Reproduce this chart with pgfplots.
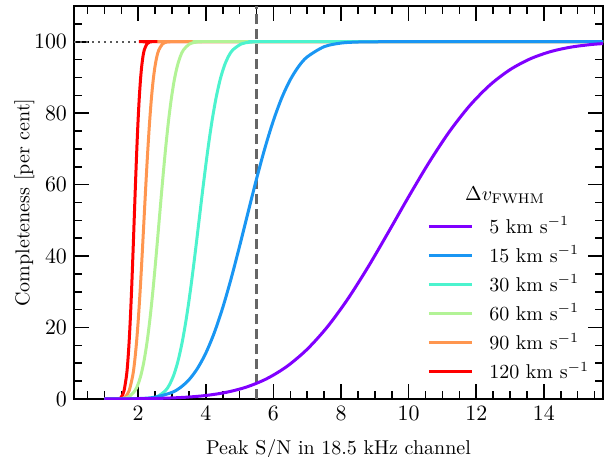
\documentclass[border=0pt]{standalone}
\usepackage{pgfplots}
\pgfplotsset{compat=1.18}
\definecolor{c5}{rgb}{0.5,0,1}
\definecolor{c15}{rgb}{0.1,0.588,0.951}
\definecolor{c30}{rgb}{0.3,0.951,0.809}
\definecolor{c60}{rgb}{0.7,0.951,0.588}
\definecolor{c90}{rgb}{1,0.588,0.309}
\definecolor{c120}{rgb}{1,0,0}
\begin{document}
\begin{tikzpicture}
\begin{axis}[
  scale only axis,
  width=264.5pt, height=196.5pt,
  xmin=0.1, xmax=15.75, ymin=0, ymax=110,
  xtick={2,4,...,14},
  minor xtick={0.5,1,...,15.5},
  ytick={0,20,...,100},
  minor ytick={5,10,...,110},
  tick align=inside,
  major tick length=7.5pt,
  minor tick length=4pt,
  axis line style={line width=0.8pt},
  every tick/.style={black, line width=0.8pt},
  tick label style={font=\fontsize{11}{13}\selectfont},
  xlabel={Peak S/N in 18.5 kHz channel},
  ylabel={Completeness [per cent]},
  label style={font=\fontsize{10}{12}\selectfont},
  xlabel shift=3pt,
  ylabel shift=-7pt,
  reverse legend,
  legend cell align=left,
  legend style={at={(axis description cs:0.667,0.475)}, anchor=north west,
    draw=none, fill=none, font=\fontsize{10}{12}\selectfont,
    row sep=0.9pt, column sep=6pt, inner sep=0pt},
  legend image code/.code={\draw[#1] (0pt,0pt) -- (21.5pt,0pt);},
  every axis plot/.append style={line width=1.5pt},
]
\addplot[forget plot, color=black!65, line width=1pt, dash pattern=on 1pt off 2pt] coordinates {(0.1,100) (15.75,100)};
\addplot[forget plot, color=black!60, line width=1.1pt, dash pattern=on 5pt off 2.5pt] coordinates {(5.5,0) (5.5,110)};

% 120 km/s
\addplot[c120, smooth] coordinates {
(1.0,0) (1.43,0.13) (1.505,0.62) (1.58,2.28) (1.655,6.68) (1.6925,10.56) (1.73,15.87)
(1.7675,22.66) (1.805,30.85) (1.8425,40.13) (1.88,50) (1.9175,59.87) (1.955,69.15)
(1.9925,77.34) (2.03,84.13) (2.0675,89.44) (2.105,93.32) (2.1425,95.99) (2.18,97.72)
(2.255,99.38) (2.33,99.87) (2.405,99.98) (3.0,100) (15.75,100)};
\addlegendentry{120 km s$^{-1}$}
% 90 km/s
\addplot[c90, smooth] coordinates {
(1.0,0) (1.51,0.13) (1.62,0.62) (1.73,2.28) (1.84,6.68) (1.895,10.56) (1.95,15.87)
(2.005,22.66) (2.06,30.85) (2.115,40.13) (2.17,50) (2.225,59.87) (2.28,69.15)
(2.335,77.34) (2.39,84.13) (2.445,89.44) (2.50,93.32) (2.555,95.99) (2.61,97.72)
(2.72,99.38) (2.83,99.87) (2.94,99.98) (3.5,100) (15.75,100)};
\addlegendentry{90 km s$^{-1}$}
% 60 km/s
\addplot[c60, smooth] coordinates {
(1.0,0) (1.54,0.13) (1.72,0.62) (1.90,2.28) (1.99,4.01) (2.08,6.68) (2.17,10.56) (2.26,15.87)
(2.35,22.66) (2.44,30.85) (2.53,40.13) (2.62,50) (2.71,59.87) (2.80,69.15)
(2.89,77.34) (2.98,84.13) (3.07,89.44) (3.16,93.32) (3.25,95.99) (3.34,97.72)
(3.52,99.38) (3.70,99.87) (3.88,99.98) (4.5,100) (15.75,100)};
\addlegendentry{60 km s$^{-1}$}
% 30 km/s
\addplot[c30, smooth] coordinates {
(1.0,0) (2.3,0.13) (2.55,0.62) (2.8,2.28) (2.925,4.01) (3.05,6.68) (3.175,10.56) (3.3,15.87)
(3.425,22.66) (3.55,30.85) (3.675,40.13) (3.8,50) (3.925,59.87) (4.05,69.15)
(4.175,77.34) (4.3,84.13) (4.425,89.44) (4.55,93.32) (4.675,95.99) (4.8,97.72)
(5.05,99.38) (5.3,99.87) (5.55,99.98) (6.0,100) (15.75,100)};
\addlegendentry{30 km s$^{-1}$}
% 15 km/s
\addplot[c15, smooth] coordinates {
(1.0,0) (2.0,0.12) (2.5,0.52) (3.0,1.85) (3.25,3.23) (3.5,5.37) (3.75,8.52) (4.0,12.86)
(4.25,18.54) (4.5,25.56) (4.75,33.76) (5.0,42.82) (5.25,52.27) (5.5,61.60) (5.75,70.30)
(6.0,77.97) (6.25,84.37) (6.5,89.39) (6.75,93.14) (7.0,95.76) (7.5,98.61) (8.0,99.63)
(8.5,99.92) (9.0,99.99) (10.0,100) (15.75,100)};
\addlegendentry{15 km s$^{-1}$}
% 5 km/s
\addplot[c5, smooth] coordinates {
(1.0,0.01) (1.6,0.04) (2.2,0.10) (2.8,0.23) (3.4,0.49) (4.0,0.98) (4.6,1.86) (5.2,3.34)
(5.8,5.67) (6.4,9.13) (7.0,13.94) (7.6,20.24) (8.2,28.00) (8.8,36.96) (9.4,46.68)
(10.0,56.62) (10.6,66.15) (11.2,74.76) (11.8,82.04) (12.4,87.84) (13.0,92.18)
(13.6,95.22) (14.2,97.24) (14.8,98.49) (15.4,99.22) (15.75,99.48)};
\addlegendentry{5 km s$^{-1}$}
\node[font=\fontsize{10}{12}\selectfont] at (axis description cs:0.815,0.519) {$\Delta v_{\mathrm{FWHM}}$};
\end{axis}
\pgfresetboundingbox
\path ([shift={(-37pt,-28.5pt)}]current axis.south west) rectangle ([shift={(1pt,3pt)}]current axis.north east);
\end{tikzpicture}
\end{document}
